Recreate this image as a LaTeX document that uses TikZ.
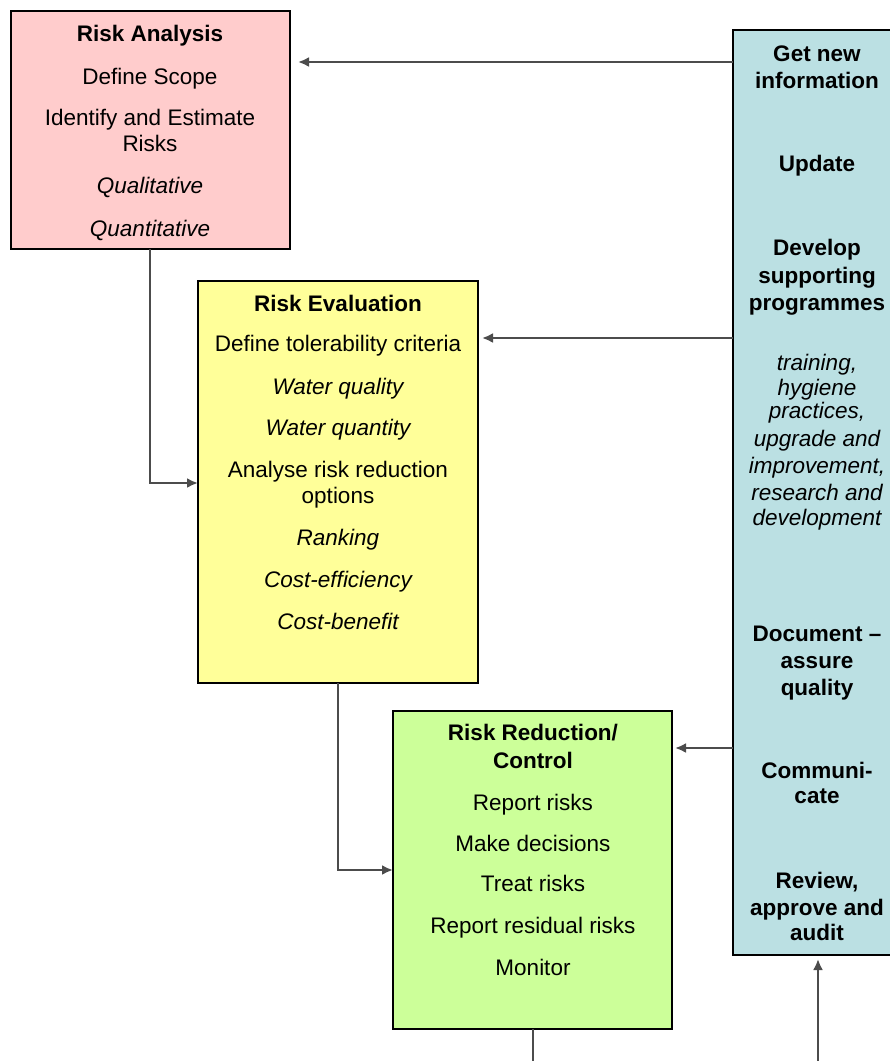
\documentclass[tikz,border=0pt]{standalone}
\usepackage{fontspec}
\setmainfont{Liberation Sans}
\usetikzlibrary{arrows.meta}
\definecolor{rapink}{HTML}{FFCCCC}
\definecolor{reyellow}{HTML}{FFFF99}
\definecolor{rrgreen}{HTML}{CCFF99}
\definecolor{infoblue}{HTML}{BBE0E3}
\tikzset{
  box/.style={draw=black, line width=1.8pt, anchor=north west, inner sep=0pt, outer sep=0pt},
  t/.style={anchor=base, inner sep=0pt, font=\fontsize{22.5}{26}\selectfont},
  tb/.style={t, font=\fontsize{22.5}{26}\selectfont\bfseries},
  ti/.style={t, font=\fontsize{22.5}{26}\selectfont\itshape},
  conn/.style={draw=black!70, line width=2.2pt},
  arr/.style={conn, -{Latex[length=11pt,width=10pt]}},
}
\begin{document}
\begin{tikzpicture}[x=1pt,y=-1pt]
\useasboundingbox (0,0) rectangle (890,1061);
\clip (0,0) rectangle (890,1061);
\fill[white] (0,0) rectangle (890,1061);
% boxes
\node[box, fill=rapink, minimum width=279pt, minimum height=238pt] (ra) at (11,11) {};
\node[box, fill=reyellow, minimum width=280pt, minimum height=402pt] (re) at (198,281) {};
\node[box, fill=rrgreen, minimum width=279pt, minimum height=318pt] (rr) at (393,711) {};
\node[box, fill=infoblue, minimum width=170pt, minimum height=925pt] (info) at (733,30) {};
% Risk Analysis texts
\node[tb] (ra1) at (150,41) {Risk Analysis};
\node[t]  (ra2) at (150,84) {Define Scope};
\node[t]  (ra3) at (150,125) {Identify and Estimate};
\node[t]  (ra4) at (150,151) {Risks};
\node[ti] (ra5) at (150,193) {Qualitative};
\node[ti] (ra6) at (150,236) {Quantitative};
% Risk Evaluation texts
\node[tb] (re1) at (338,311) {Risk Evaluation};
\node[t]  (re2) at (338,351) {Define tolerability criteria};
\node[ti] (re3) at (338,394) {Water quality};
\node[ti] (re4) at (338,435) {Water quantity};
\node[t]  (re5) at (338,477) {Analyse risk reduction};
\node[t]  (re6) at (338,503) {options};
\node[ti] (re7) at (338,545) {Ranking};
\node[ti] (re8) at (338,587) {Cost-efficiency};
\node[ti] (re9) at (338,629) {Cost-benefit};
% Risk Reduction texts
\node[tb] (rr1) at (533,740) {Risk Reduction/};
\node[tb] (rr2) at (533,768) {Control};
\node[t]  (rr3) at (533,810) {Report risks};
\node[t]  (rr4) at (533,851) {Make decisions};
\node[t]  (rr5) at (533,891) {Treat risks};
\node[t]  (rr6) at (533,933) {Report residual risks};
\node[t]  (rr7) at (533,975) {Monitor};
% Info texts
\node[tb] (i1) at (817,61) {Get new};
\node[tb] (i2) at (817,88) {information};
\node[tb] (i3) at (817,171) {Update};
\node[tb] (i4) at (817,255) {Develop};
\node[tb] (i5) at (817,283) {supporting};
\node[tb] (i6) at (817,310) {programmes};
\node[ti] (i7) at (817,370) {training,};
\node[ti] (i8) at (817,395) {hygiene};
\node[ti] (i9) at (817,418) {practices,};
\node[ti] (i10) at (817,446) {upgrade and};
\node[ti] (i11) at (817,473) {improvement,};
\node[ti] (i12) at (817,500) {research and};
\node[ti] (i13) at (817,525) {development};
\node[tb] (i14) at (817,641) {Document –};
\node[tb] (i15) at (817,668) {assure};
\node[tb] (i16) at (817,695) {quality};
\node[tb] (i17) at (817,778) {Communi-};
\node[tb] (i18) at (817,803) {cate};
\node[tb] (i19) at (817,888) {Review,};
\node[tb] (i20) at (817,915) {approve and};
\node[tb] (i21) at (817,940) {audit};
% connector levels
\coordinate (ya) at (0,62);
\coordinate (ye) at (0,338);
\coordinate (yr) at (0,748);
\coordinate (yae) at (0,483);
\coordinate (yer) at (0,870);
\coordinate (xra) at (150,0);
\coordinate (xre) at (338,0);
\coordinate (rrout) at (533,1061);
\coordinate (infoin) at (818,1061);
% connectors
\draw[arr, shorten >=8pt] (info.west |- ya) -- (ra.east |- ya);
\draw[arr, shorten >=4pt] (info.west |- ye) -- (re.east |- ye);
\draw[arr, shorten >=3pt] (info.west |- yr) -- (rr.east |- yr);
\draw[arr] (xra |- ra.south) -- (xra |- yae) -- (re.west |- yae);
\draw[arr] (xre |- re.south) -- (xre |- yer) -- (rr.west |- yer);
\draw[conn] (rrout |- rr.south) -- (rrout);
\draw[arr, shorten >=4pt] (infoin) -- (infoin |- info.south);
\end{tikzpicture}
\end{document}
